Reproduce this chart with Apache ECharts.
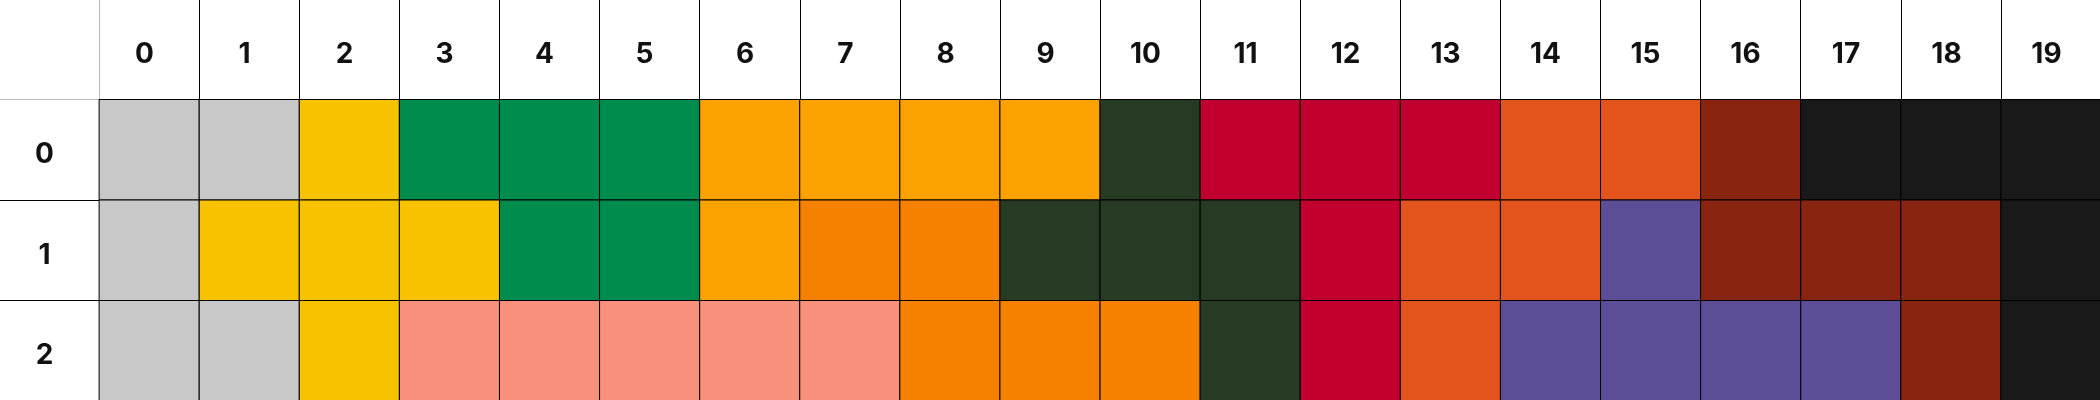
<!DOCTYPE html>
<html><head><meta charset="utf-8">
<script src="https://cdn.jsdelivr.net/npm/echarts@6/dist/echarts.min.js"></script>
<style>html,body{margin:0;padding:0;background:#fff}#c{width:2100px;height:400px}</style>
</head><body><div id="c"></div>
<script>
const columns = ['0','1','2','3','4','5','6','7','8','9','10','11','12','13','14','15','16','17','18','19'];
const rows = ['0','1','2'];
const groups = ['gray','yellow','green','orange','darkorange','darkgreen','crimson','redorange','brown','black','purple','salmon'];
const row0 = ['gray','gray','yellow','green','green','green','orange','orange','orange','orange','darkgreen','crimson','crimson','crimson','redorange','redorange','brown','black','black','black'];
const row1 = ['gray','yellow','yellow','yellow','green','green','orange','darkorange','darkorange','darkgreen','darkgreen','darkgreen','crimson','redorange','redorange','purple','brown','brown','brown','black'];
const row2 = ['gray','gray','yellow','salmon','salmon','salmon','salmon','salmon','darkorange','darkorange','darkorange','darkgreen','crimson','redorange','purple','purple','purple','purple','brown','black'];
const palette = {
  gray:'#c8c8c8', yellow:'#f7c200', green:'#008c4c', orange:'#fca200', darkorange:'#f68100',
  darkgreen:'#263a24', crimson:'#c1002f', redorange:'#e3531c', brown:'#882410',
  black:'#191919', purple:'#5d4c96', salmon:'#f8917b'
};

const rowsData = [row0, row1, row2];
const data = [];
rowsData.forEach((r, j) => r.forEach((g, i) => data.push([columns[i], rows[j], groups.indexOf(g)])));

const lineStyle = { borderColor: '#000', borderWidth: 1 };
const labelStyle = {
  fontFamily: 'Inter', fontWeight: 'bold', fontSize: 28, color: '#111',
  verticalAlign: 'top', lineHeight: 10,
  padding: [0, 10, 0, 0]
};

const chart = echarts.init(document.getElementById('c'));
chart.setOption({
  animation: false,
  visualMap: {
    type: 'piecewise', show: false, dimension: 2, seriesIndex: 0,
    pieces: groups.map((g, i) => ({ value: i, color: palette[g] }))
  },
  matrix: {
    left: -1, top: -1, right: -1, bottom: -1,
    x: { data: columns, label: labelStyle, itemStyle: lineStyle },
    y: { data: rows, label: labelStyle, itemStyle: lineStyle },
    body: { itemStyle: lineStyle },
    corner: { itemStyle: lineStyle },
    backgroundStyle: { borderWidth: 0 }
  },
  series: [{
    type: 'heatmap',
    coordinateSystem: 'matrix',
    data: data,
    itemStyle: { borderColor: '#000', borderWidth: 1 },
    emphasis: { disabled: true }
  }]
});
</script></body></html>
